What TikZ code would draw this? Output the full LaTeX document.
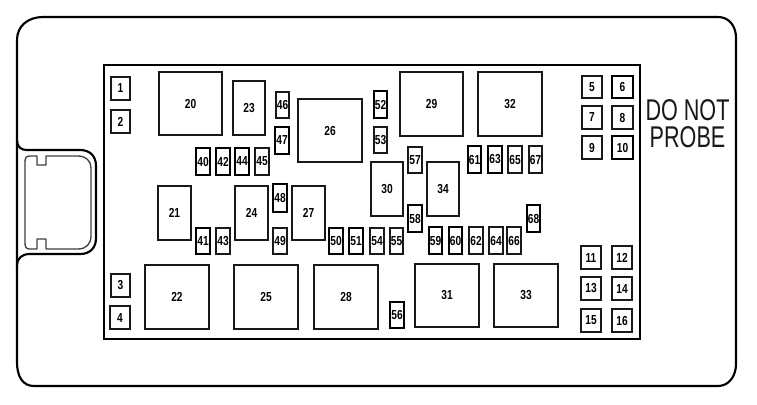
\documentclass[tikz,border=0pt]{standalone}
\usepackage{fontspec}
\setmainfont{Liberation Sans}
\newfontfamily\lab[FakeStretch=0.78]{Liberation Sans}
\newfontfamily\probefont[FakeStretch=0.72]{Liberation Sans}
\newcommand{\bx}[6][thin box]{%
  \pgfmathsetmacro{\cxx}{(#3+#5)/2}\pgfmathsetmacro{\cyy}{(#4+#6)/2}%
  \pgfmathsetmacro{\wdd}{(#5-#3)*0.75}\pgfmathsetmacro{\htt}{(#6-#4)*0.75}%
  \node[#1,minimum width=\wdd pt,minimum height=\htt pt] (b#2) at (\cxx,\cyy) {#2};}
\tikzset{
  x=0.75pt,y=-0.75pt,
  thin box/.style={draw=black!90,line width=1.5pt,inner sep=0pt,outer sep=0pt,font=\lab\bfseries\fontsize{9.8pt}{10pt}\selectfont,text=black},
  thick box/.style={thin box,line width=2.15pt,draw=black},
  outline/.style={draw=black,line width=1.6pt,line join=round},
  tabline/.style={draw=black!75,line width=1pt,line join=round},
  panel/.style={draw=black,line width=2pt}
}
\begin{document}
\begin{tikzpicture}
\useasboundingbox (0,0) rectangle (757,404);
\fill[white] (0,0) rectangle (757,404);
% outer case
\draw[outline] (17,40) .. controls (17,26) and (28,17) .. (43,17) -- (718,17)
  .. controls (729,17) and (736,26) .. (736,38) -- (736,364)
  .. controls (736,376) and (729,386) .. (718,386) -- (34,386)
  .. controls (23,386) and (17,377) .. (17,362) -- cycle;
% bulge
\draw[outline] (17,140) .. controls (17,147) and (21,150) .. (27,150) -- (80,150)
  .. controls (90,150) and (96,156) .. (96,166) -- (96,238)
  .. controls (96,248) and (90,254) .. (80,254) -- (30,254)
  .. controls (22,254) and (17,258) .. (17,266);
% inner tab
\draw[tabline] (37,156) -- (30,156) .. controls (26,156) and (25,158) .. (25,162) -- (25,243)
  .. controls (25,247) and (26,249) .. (30,249) -- (37,249) -- (37,239) -- (46,239) -- (46,249) -- (78,249)
  .. controls (86,249) and (91,244) .. (91,236) -- (91,168)
  .. controls (91,161) and (86,156) .. (78,156) -- (46,156) -- (46,165) -- (37,165) -- cycle;
% panel
\draw[panel] (104,65) rectangle (640,339);
% fuses and relays
\bx{1}{111}{77}{130}{100}
\bx{2}{111}{110}{130}{133}
\bx{3}{111}{274}{130}{297}
\bx{4}{110}{306}{130}{329}
\bx{5}{582}{76}{602}{98}
\bx[thick box]{6}{612}{76}{633}{98}
\bx{7}{582}{106}{602}{129}
\bx{8}{612}{106}{633}{129}
\bx{9}{582}{136}{602}{159}
\bx[thick box]{10}{612}{136}{633}{159}
\bx{11}{581}{246}{601}{269}
\bx{12}{612}{246}{632}{269}
\bx{13}{581}{277}{601}{300}
\bx{14}{612}{277}{632}{300}
\bx{15}{581}{309}{601}{332}
\bx{16}{612}{309}{632}{332}
\bx{20}{159}{72}{222}{135}
\bx{21}{158}{186}{191}{240}
\bx{22}{145}{265}{209}{329}
\bx{23}{233}{81}{265}{135}
\bx{24}{235}{186}{268}{240}
\bx{25}{234}{265}{298}{329}
\bx{26}{298}{99}{362}{162}
\bx{27}{292}{186}{325}{240}
\bx{28}{314}{265}{378}{329}
\bx{29}{400}{72}{463}{136}
\bx{30}{371}{162}{403}{216}
\bx{31}{415}{264}{479}{327}
\bx{32}{478}{72}{542}{136}
\bx{33}{494}{264}{558}{327}
\bx{34}{427}{162}{459}{216}
\bx[thick box]{40}{196}{148}{210}{175}
\bx[thick box]{41}{196}{228}{210}{254}
\bx[thick box]{42}{216}{148}{230}{175}
\bx{43}{216}{228}{230}{254}
\bx[thick box]{44}{235}{148}{249}{175}
\bx{45}{255}{148}{269}{175}
\bx{46}{276}{92}{289}{118}
\bx[thick box]{47}{275}{127}{289}{154}
\bx[thick box]{48}{273}{184}{287}{212}
\bx{49}{273}{228}{287}{254}
\bx[thick box]{50}{329}{228}{343}{254}
\bx[thick box]{51}{349}{228}{363}{254}
\bx[thick box]{52}{374}{91}{387}{118}
\bx{53}{374}{127}{387}{153}
\bx{54}{370}{228}{384}{254}
\bx{55}{390}{228}{403}{254}
\bx[thick box]{56}{390}{302}{404}{328}
\bx{57}{408}{147}{422}{173}
\bx[thick box]{58}{408}{205}{422}{232}
\bx[thick box]{59}{429}{227}{442}{254}
\bx[thick box]{60}{449}{227}{462}{254}
\bx[thick box]{61}{468}{146}{481}{173}
\bx{62}{469}{227}{483}{254}
\bx[thick box]{63}{488}{146}{502}{173}
\bx{64}{489}{227}{503}{254}
\bx{65}{508}{146}{522}{173}
\bx{66}{507}{227}{521}{254}
\bx{67}{529}{146}{542}{173}
\bx[thick box]{68}{527}{205}{540}{232}
% warning text
\node[align=center,inner sep=0pt,text=black!90,font=\probefont\fontsize{22.5pt}{20.6pt}\selectfont] (probe) at (687.5,123.5) {DO NOT\\PROBE};
\end{tikzpicture}
\end{document}
